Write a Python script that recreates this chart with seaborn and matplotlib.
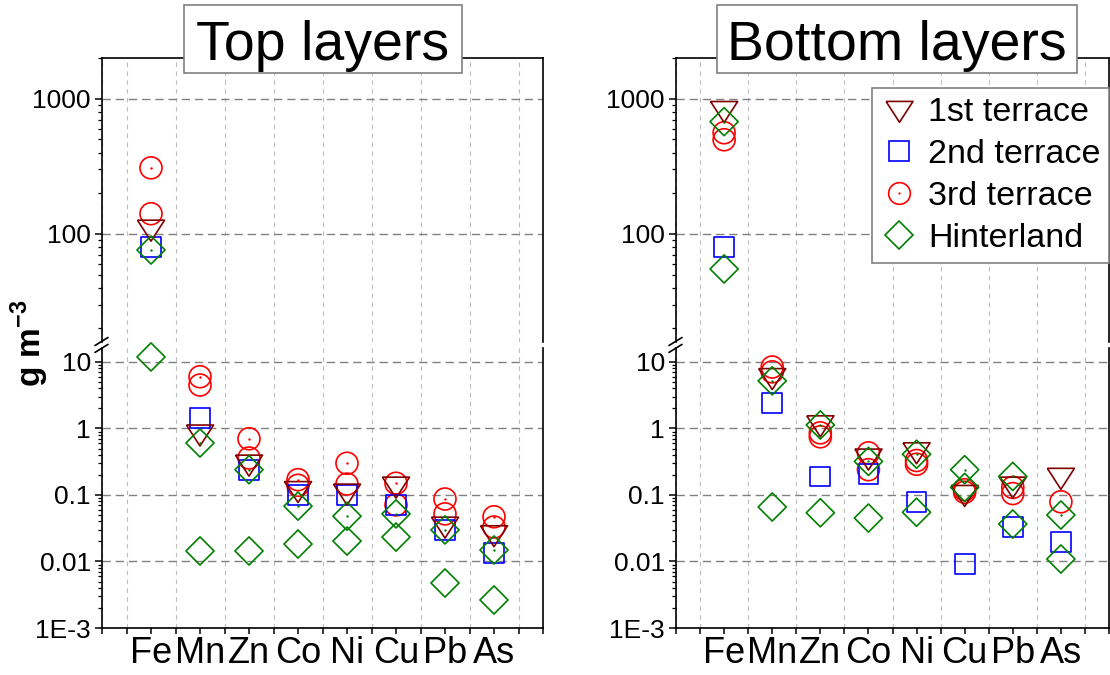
import numpy as np
import pandas as pd
import matplotlib
matplotlib.use('Agg')
import matplotlib.pyplot as plt
import seaborn as sns
from matplotlib.lines import Line2D
from matplotlib.patches import Rectangle
from matplotlib.ticker import LogLocator, NullFormatter

nan = np.nan

elements = ['Fe', 'Mn', 'Zn', 'Co', 'Ni', 'Cu', 'Pb', 'As']
series_names = ['1st terrace', '2nd terrace', '3rd terrace', 'Hinterland']

# Top layers (g m-3), two sets per series where two markers are visible
top_1st = [110, 0.85, 0.30, 0.12, 0.11, 0.14, 0.035, 0.026]
top_2nd = [80, 1.45, 0.24, 0.10, 0.10, 0.07, 0.030, 0.0135]
top_3rd_a = [308, 6.0, 0.70, 0.17, 0.30, 0.15, 0.087, 0.047]
top_3rd_b = [141, 4.5, 0.36, 0.14, 0.146, 0.071, 0.052, 0.033]
top_hint_a = [76, 0.605, 0.24, 0.068, 0.048, 0.052, 0.0298, 0.0149]
top_hint_b = [11.9, 0.0144, 0.0144, 0.0183, 0.0203, 0.0233, 0.00475, 0.00264]

# Bottom layers
bot_1st = [830, 6.0, 1.17, 0.37, 0.46, 0.105, 0.14, 0.19]
bot_2nd = [80, 2.4, 0.19, 0.21, 0.079, 0.0092, 0.033, 0.0196]
bot_3rd_a = [560, 8.4, 0.86, 0.43, 0.33, 0.12, 0.13, 0.079]
bot_3rd_b = [497, 7.1, 0.75, 0.24, 0.29, 0.11, 0.105, nan]
bot_hint_a = [676, 5.2, 1.13, 0.32, 0.41, 0.24, 0.19, 0.05]
bot_hint_b = [55, 0.066, 0.054, 0.045, 0.055, 0.13, 0.0366, 0.0109]

lower_ticks = [1e-3, 1e-2, 1e-1, 1, 10]
lower_ticklabels = ['1E-3', '0.01', '0.1', '1', '10']
upper_ticks = [100, 1000]
upper_ticklabels = ['100', '1000']


def long_form(panel, rows):
	recs = []
	for series, vals, dot in rows:
		for i, (el, v) in enumerate(zip(elements, vals)):
			if np.isnan(v):
				continue
			recs.append({'panel': panel, 'series': series, 'element': el,
						 'pos': i, 'value': v, 'dot': dot})
	return recs


records = []
records += long_form('Top layers', [
	('1st terrace', top_1st, False),
	('2nd terrace', top_2nd, False),
	('3rd terrace', top_3rd_a, True),
	('3rd terrace', top_3rd_b, False),
	('Hinterland', top_hint_a, True),
	('Hinterland', top_hint_b, False),
])
records += long_form('Bottom layers', [
	('1st terrace', bot_1st, False),
	('2nd terrace', bot_2nd, False),
	('3rd terrace', bot_3rd_a, False),
	('3rd terrace', bot_3rd_b, False),
	('Hinterland', bot_hint_a, True),
	('Hinterland', bot_hint_b, False),
])
df = pd.DataFrame(records)

sns.set_style('ticks')
plt.rcParams['font.family'] = ['Liberation Sans', 'DejaVu Sans']
plt.rcParams['mathtext.fontset'] = 'custom'
plt.rcParams['mathtext.rm'] = 'Liberation Sans'
plt.rcParams['mathtext.bf'] = 'Liberation Sans:bold'
for key in ['text.color', 'axes.labelcolor', 'xtick.color', 'ytick.color']:
	plt.rcParams[key] = 'black'

# Origin-like wide down triangle
tri_down = [(-1, 0.6), (1, 0.6), (0, -0.95), (-1, 0.6)]

styles = {
	'1st terrace': dict(color='#800000', marker=tri_down, s=380, ms=19.4),
	'2nd terrace': dict(color='#0000FF', marker='s', s=205, ms=14.4),
	'3rd terrace': dict(color='#FF0000', marker='o', s=250, ms=15.6),
	'Hinterland': dict(color='#008000', marker='D', s=205, ms=14.1),
}
draw_order = ['3rd terrace', '2nd terrace', '1st terrace', 'Hinterland']

W, H = 1110, 675
fig = plt.figure(figsize=(W / 100, H / 100), dpi=100)


def px_rect(x0, y0, x1, y1):
	return [x0 / W, 1 - y1 / H, (x1 - x0) / W, (y1 - y0) / H]


split = 16
up_top, up_bot = 58, 341.5
lo_top, lo_bot = 348.4, 628

panels = [
	('Top layers', 102, 543, (184, 462)),
	('Bottom layers', 676, 1109, (717, 1077)),
]

minor_x = [-1] + list(np.arange(-0.5, 8, 1.0)) + [8]

for name, x0, x1, (bx0, bx1) in panels:
	ax_up = fig.add_axes(px_rect(x0, up_top, x1, up_bot))
	ax_lo = fig.add_axes(px_rect(x0, lo_top, x1, lo_bot))
	pdata = df[df['panel'] == name]

	for ax, part, lim in [(ax_up, pdata[pdata['value'] > split], (split, 2000)),
						  (ax_lo, pdata[pdata['value'] <= split], (1e-3, split))]:
		ax.set_yscale('log')
		for series in draw_order:
			st = styles[series]
			sub = part[part['series'] == series]
			if len(sub) == 0:
				continue
			sns.scatterplot(data=sub, x='pos', y='value', ax=ax, marker=st['marker'],
							s=st['s'], color=st['color'], facecolors='none',
							edgecolor=st['color'], linewidth=1.2, clip_on=False,
							zorder=3, legend=False)
			dots = sub[sub['dot']]
			if len(dots):
				sns.scatterplot(data=dots, x='pos', y='value', ax=ax, marker='o', s=3,
								color=st['color'], linewidth=0, clip_on=False,
								zorder=4, legend=False)
		ax.set_ylim(*lim)
		ax.set_xlim(-1, 8)
		ax.set_xlabel('')
		ax.set_ylabel('')
		ax.set_xticks(range(len(elements)))
		ax.set_xticks(minor_x, minor=True)
		ax.yaxis.set_minor_locator(LogLocator(base=10, subs=np.arange(2, 10), numticks=20))
		ax.yaxis.set_minor_formatter(NullFormatter())
		ax.set_axisbelow(True)
		ax.yaxis.grid(True, which='major', color='#808080', linestyle=(0, (6, 3.5)), linewidth=1.0)
		ax.yaxis.grid(False, which='minor')
		ax.xaxis.grid(True, which='minor', color='#bdbdbd', linestyle=(0, (4, 4)), linewidth=0.8)
		ax.xaxis.grid(False, which='major')
		ax.tick_params(axis='y', which='major', direction='out', length=5, width=1.1,
					   labelsize=19, pad=3, right=False)
		ax.tick_params(axis='y', which='minor', direction='out', length=3, width=0.9, right=False)
		ax.tick_params(axis='x', which='both', direction='out', length=4, width=1.1, top=False)
		for sp in ax.spines.values():
			sp.set_linewidth(1.2)
			sp.set_color('black')

	ax_up.set_yticks(upper_ticks)
	ax_up.set_yticklabels(upper_ticklabels)
	ax_up.spines['bottom'].set_visible(False)
	ax_up.tick_params(axis='x', which='both', bottom=False, labelbottom=False)

	ax_lo.set_yticks(lower_ticks)
	ax_lo.set_yticklabels(lower_ticklabels)
	ax_lo.spines['top'].set_visible(False)
	ax_lo.set_xticklabels(elements)
	ax_lo.tick_params(axis='x', which='major', labelsize=26, pad=2)

	# axis break marks on the left spine
	for yc in (up_bot, lo_top):
		fig.add_artist(Line2D([(x0 - 7) / W, (x0 + 6) / W],
							  [1 - (yc + 4) / H, 1 - (yc - 4) / H],
							  transform=fig.transFigure, color='black', lw=1.2))

	# boxed title
	fig.add_artist(Rectangle((bx0 / W, 1 - 73 / H), (bx1 - bx0) / W, 68 / H,
							 transform=fig.transFigure, facecolor='white',
							 edgecolor='#808080', lw=1.2, zorder=5))
	fig.text((bx0 + bx1) / 2 / W, 1 - 60 / H, name, ha='center', va='baseline',
			 fontsize=40, zorder=6)

# legend in the right panel
handles = []
for series in series_names:
	st = styles[series]
	h = Line2D([], [], linestyle='none', marker=st['marker'], markersize=st['ms'],
			   markerfacecolor='none', markeredgecolor=st['color'], markeredgewidth=1.2)
	if series == '3rd terrace':
		h = (h, Line2D([], [], linestyle='none', marker='o', markersize=1.6,
					   markerfacecolor=st['color'], markeredgewidth=0))
	handles.append(h)

leg = fig.legend(handles, series_names, loc='upper right',
				 bbox_to_anchor=(1109 / W, 1 - 88 / H), bbox_transform=fig.transFigure,
				 fontsize=24.5, frameon=True, fancybox=False, framealpha=1,
				 edgecolor='#808080', borderaxespad=0, handletextpad=0.3,
				 labelspacing=0.33, borderpad=0.25, handlelength=1.1)
leg.get_frame().set_linewidth(1.2)
leg.set_zorder(7)

fig.text(30 / W, 1 - 343 / H, r'g m$^{\mathbf{-3}}$', rotation=90, fontsize=24,
		 fontweight='bold', ha='center', va='center')

plt.savefig('out.png', dpi=100)
plt.close()
